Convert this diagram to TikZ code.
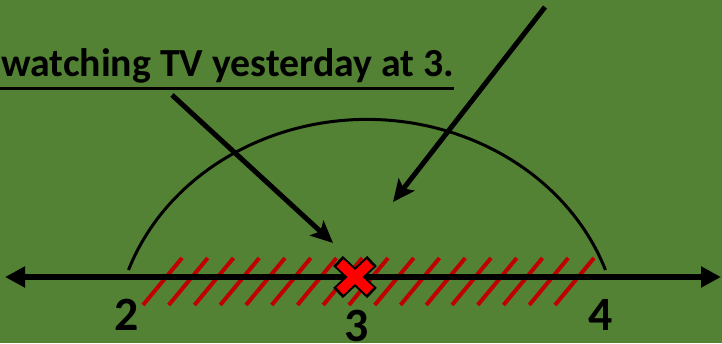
\documentclass[tikz,border=0pt]{standalone}
\usepackage{fontspec}
\setmainfont{Carlito}
\usetikzlibrary{arrows.meta}
\definecolor{bgcol}{HTML}{548235}
\definecolor{hatchcol}{HTML}{C00000}
\definecolor{crosscol}{HTML}{FF0000}

\begin{document}
\begin{tikzpicture}[x=0.025cm,y=0.025cm,
	numline/.style={line width=0.16cm,{Triangle[length=0.5cm,width=0.5cm]}-{Triangle[length=0.5cm,width=0.5cm]}},
	pointer/.style={line width=0.125cm,-{Stealth[length=0.55cm,width=0.5cm,inset=0.12cm]}},
	hatch/.style={hatchcol,line width=0.1cm},
	numlabel/.style={font=\fontsize{34}{34}\selectfont\bfseries,anchor=base,inner sep=0}]
\fill[bgcol] (0,0) rectangle (722,343);
\useasboundingbox (0,0) rectangle (722,343);
% the sentence, underlined
\node[anchor=base west,inner sep=0,font=\fontsize{28.3}{28}\selectfont\bfseries] (sentence) at (1,266) {watching TV yesterday at 3.};
\draw[line width=0.075cm] ([yshift=-0.28cm]sentence.base west) ++(-1,0) -- ([yshift=-0.28cm]sentence.base east);
% red hatching between 2 and 4
\foreach \k in {0,...,16}{
	\draw[hatch] (143+25.75*\k,38) -- ++(39,47);
	}
% number line
\coordinate (left) at (5,66);
\coordinate (right) at (721,66);
\draw[numline] (left) -- (right);
% arc over the interval
\coordinate (arcstart) at (128.5,73);
\draw[line width=0.075cm] (arcstart) arc[start angle=160.5,end angle=19.5,x radius=253,y radius=226];
% the cross at 3
\coordinate (mark) at (355,66);
\foreach \s in {1,-1}{
	\draw[line width=0.35cm,shift={(mark)}] (-17,-16*\s) -- (17,16*\s);
	}
\foreach \s in {1,-1}{
	\draw[crosscol,line width=0.25cm,shift={(mark)}] (-15,-14*\s) -- (15,14*\s);
	}
\node[numlabel] (two) at (127,13) {2};
\node[numlabel] (three) at (357,2) {3};
\node[numlabel] (four) at (601,13) {4};
% pointers
\coordinate (p1from) at (172,248);
\coordinate (p1to) at (333,100);
\coordinate (p2from) at (545,336);
\coordinate (p2to) at (393,141);
\draw[pointer] (p1from) -- (p1to);
\draw[pointer] (p2from) -- (p2to);
\end{tikzpicture}
\end{document}
